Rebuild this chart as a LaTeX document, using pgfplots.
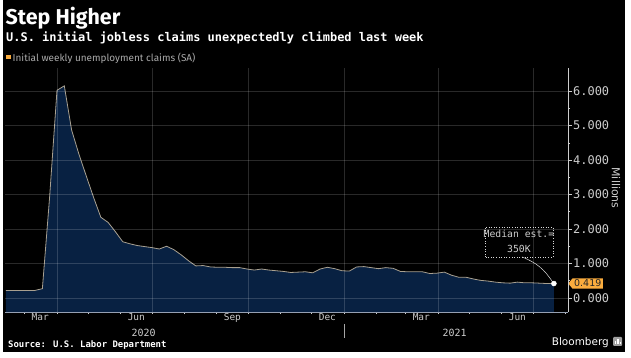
\documentclass[border=0pt]{standalone}
\usepackage{pgfplots}
\pgfplotsset{compat=1.18}
\usepackage{pgfplotstable}
\usetikzlibrary{shapes.symbols}
\usepackage{fontspec}
\setmainfont{DejaVu Sans}
\newfontfamily\monofont{DejaVu Sans Mono}
\newfontfamily\firafont{Fira Sans}
\definecolor{navy}{RGB}{8,33,66}
\definecolor{linec}{RGB}{168,160,144}
\definecolor{tickc}{RGB}{205,205,205}
\definecolor{legc}{RGB}{170,170,170}
\definecolor{orangec}{RGB}{250,172,62}
\definecolor{axisc}{RGB}{150,160,178}

\pgfplotstableread{
x y
42 0.22
49 0.22
56 0.22
63 0.22
70 0.22
77 0.27
84 2.95
91 6.02
98 6.15
105 4.87
112 4.17
119 3.54
126 2.92
133 2.34
140 2.19
147 1.92
154 1.63
161 1.57
168 1.52
175 1.49
182 1.46
189 1.42
196 1.50
203 1.40
210 1.25
217 1.08
224 0.93
231 0.94
238 0.90
245 0.89
252 0.89
259 0.88
266 0.88
273 0.84
280 0.81
287 0.84
294 0.81
301 0.79
308 0.77
315 0.74
322 0.75
329 0.76
336 0.73
343 0.84
350 0.89
357 0.85
364 0.79
371 0.78
378 0.90
385 0.91
392 0.88
399 0.85
406 0.88
413 0.86
420 0.77
427 0.76
434 0.76
441 0.76
448 0.71
455 0.72
462 0.75
469 0.66
476 0.60
483 0.60
490 0.55
497 0.51
504 0.49
511 0.46
518 0.44
525 0.43
532 0.46
539 0.44
546 0.44
553 0.43
560 0.42
567 0.419
}\claims

\begin{document}
\begin{tikzpicture}
\fill[white] (0,0) rectangle (631bp,358bp);
\fill[black] (3bp,6bp) rectangle (625bp,358bp);

% titles
\node[anchor=base west, inner sep=0, text=white, font=\firafont\bfseries\fontsize{21.5}{21.5}\selectfont] at (5.5bp,333.5bp) {Step Higher};
\node[anchor=base west, inner sep=0, text=white, font=\monofont\bfseries\fontsize{12}{12}\selectfont] at (6bp,316.3bp) {U.S. initial jobless claims unexpectedly climbed last week};
\fill[orangec] (6bp,298.5bp) rectangle (10.5bp,303bp);
\node[anchor=base west, inner sep=0, text=legc, font=\firafont\fontsize{10}{10}\selectfont] at (12.5bp,296.5bp) {Initial weekly unemployment claims (SA)};

% footer
\node[anchor=base west, inner sep=0, text=white, font=\monofont\bfseries\fontsize{9}{9}\selectfont] at (8bp,10.5bp) {Source: U.S. Labor Department};
\node[anchor=base east, inner sep=0, text=white, font=\fontsize{10.5}{10.5}\selectfont] at (609bp,13bp) {Bloomberg};
\fill[gray!75, rounded corners=1bp] (613bp,12bp) rectangle (622bp,21bp);
\fill[white] (615bp,14bp) rectangle (616.3bp,17bp);
\fill[white] (617.3bp,14bp) rectangle (618.6bp,19bp);
\fill[white] (619.6bp,14bp) rectangle (620.9bp,16bp);

\node[rotate=-90, inner sep=0, text=tickc, font=\fontsize{11}{11}\selectfont] at (616bp,170bp) {Millions};

% year separator below the axis
\draw[gray!70, line width=0.6bp] (344bp,34bp) -- (344bp,20bp);

\begin{axis}[
  at={(5bp,46bp)}, anchor=south west,
  width=563bp, height=244bp, scale only axis,
  xmin=41.2, xmax=580.5, ymin=-0.406, ymax=6.667,
  clip=false,
  axis on top,
  axis x line*=bottom, axis y line*=right,
  x axis line style={draw=axisc, line width=1bp},
  y axis line style={draw=tickc, line width=0.6bp},
  xtick={91,182,274,366,456,547},
  xticklabels={,,,,,},
  x tick style={draw=none},
  minor xtick={60,91,121,152,182,213,244,274,305,335,366,397,425,456,486,517,547,578},
  minor x tick style={draw=tickc, line width=0.6bp},
  extra x ticks={75,167,259,350,440,532},
  extra x tick labels={Mar,Jun,Sep,Dec,Mar,Jun},
  extra x tick style={grid=none, major tick length=0pt,
     tick label style={font=\monofont\fontsize{9.5}{9.5}\selectfont, text=tickc, inner sep=1bp}},
  ytick={0,1,2,3,4,5,6},
  minor ytick={0.5,1.5,2.5,3.5,4.5,5.5},
  y tick style={draw=tickc, line width=0.6bp},
  minor y tick style={draw=tickc, line width=0.5bp},
  tick align=outside,
  major tick length=4bp, minor tick length=2.2bp,
  yticklabel style={font=\monofont\fontsize{12}{12}\selectfont, text=tickc, inner sep=1bp},
  /pgf/number format/.cd, fixed, fixed zerofill, precision=3, assume math mode=true,
  /pgfplots/.cd,
  grid=major,
  major grid style={draw=white, draw opacity=0.16, line width=0.6bp},
]
% area: the claims series closed down to the bottom of the axis
\addplot[fill=navy, draw=none, forget plot] table[x=x, y=y] {\claims}
  -- (axis cs:567,-0.406) -- (axis cs:42,-0.406) -- cycle;
\addplot[linec, line width=0.8bp] table[x=x, y=y] {\claims};

% annotation
\draw[tickc!80, dotted, line width=0.6bp] (axis cs:501,1.19) rectangle (axis cs:566,2.06);
\node[text=tickc, font=\monofont\fontsize{9.8}{9.8}\selectfont, inner sep=0] at (axis cs:533.5,1.85) {Median est.=};
\node[text=tickc, font=\monofont\fontsize{9.8}{9.8}\selectfont, inner sep=0] at (axis cs:533.5,1.42) {350K};
\draw[tickc!70, line width=0.5bp] (axis cs:536.4,1.19) to[bend left=18] (axis cs:566,0.45);
\addplot[only marks, mark=*, mark size=2.5bp, mark options={fill=white, draw=white}] coordinates {(567,0.419)};

% year labels
\node[anchor=base, inner sep=0, text=tickc, font=\monofont\fontsize{10}{10}\selectfont, yshift=-24bp] at (axis cs:174,-0.406) {2020};
\node[anchor=base, inner sep=0, text=tickc, font=\monofont\fontsize{10}{10}\selectfont, yshift=-24bp] at (axis cs:472,-0.406) {2021};

% value tag
\node[signal, signal to=west, signal pointer angle=100, fill=orangec, inner sep=1.6bp, anchor=west,
  font=\fontsize{9.5}{9.5}\selectfont, text=black!85] at (axis cs:580.5,0.419) {0.419};
\end{axis}
\end{tikzpicture}
\end{document}
